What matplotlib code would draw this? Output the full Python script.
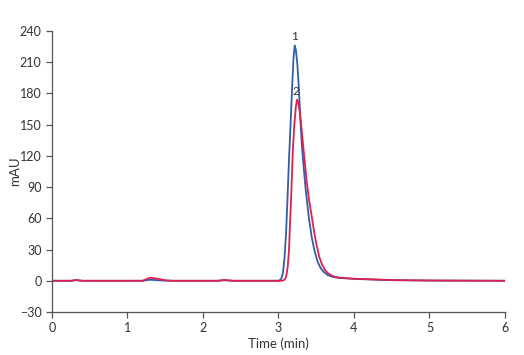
import matplotlib.pyplot as plt

# chromatogram traces (time in min, signal in mAU)
t_blue = [0.00, 0.25, 0.32, 0.40, 1.20, 1.30, 1.40, 1.55, 2.20, 2.28, 2.40,
          3.00, 3.02, 3.04, 3.06, 3.08, 3.10, 3.12, 3.14, 3.16, 3.18, 3.20,
          3.215, 3.23, 3.25, 3.27, 3.29, 3.31, 3.33, 3.36, 3.40, 3.44, 3.48,
          3.52, 3.56, 3.60, 3.65, 3.72, 3.80, 4.00, 4.50, 5.00, 6.00]
v_blue = [0.0, 0.0, 0.6, 0.0, 0.0, 1.0, 0.5, 0.0, 0.0, 0.5, 0.0,
          0.0, 0.6, 2.5, 8.0, 22.0, 45.0, 80.0, 118.0, 150.0, 185.0, 215.0,
          226.0, 222.0, 208.0, 185.0, 155.0, 130.0, 112.0, 88.0, 62.0, 42.0, 28.0,
          18.0, 12.0, 8.5, 5.5, 3.7, 2.8, 1.8, 0.6, 0.2, 0.0]

t_red = [0.00, 0.25, 0.32, 0.40, 1.20, 1.30, 1.40, 1.50, 1.60, 2.20, 2.28, 2.40,
         3.05, 3.08, 3.10, 3.12, 3.14, 3.15, 3.17, 3.19, 3.21, 3.23, 3.245,
         3.26, 3.28, 3.30, 3.32, 3.34, 3.37, 3.40, 3.44, 3.47, 3.50, 3.54,
         3.58, 3.62, 3.66, 3.72, 3.80, 4.00, 4.50, 5.00, 6.00]
v_red = [0.0, 0.0, 0.8, 0.0, 0.0, 3.0, 2.0, 0.5, 0.0, 0.0, 0.8, 0.0,
         0.0, 1.0, 3.5, 12.0, 30.0, 50.0, 85.0, 125.0, 150.0, 167.0, 174.0,
         172.0, 163.0, 150.0, 135.0, 120.0, 98.0, 80.0, 62.0, 48.0, 36.0, 23.0,
         15.0, 10.0, 7.0, 4.5, 3.0, 2.0, 0.7, 0.3, 0.0]

peak_labels = ["1", "2"]
peak_pos = [(3.21, 229), (3.235, 177)]

plt.rcParams['font.family'] = ['Lato', 'DejaVu Sans']
fig = plt.figure(figsize=(5.24, 3.55), dpi=100)
ax = fig.add_axes([0.0992, 0.1211, 0.8645, 0.7916])

ax.plot(t_blue, v_blue, color="#2f5fa6", lw=1.3)
ax.plot(t_red, v_red, color="#e0204f", lw=1.3)

for lab, (x, y) in zip(peak_labels, peak_pos):
    ax.text(x, y, lab, ha="center", va="bottom", fontsize=8.5, color="#333333")

ax.set_xlim(0, 6)
ax.set_ylim(-30, 240)
ax.set_xticks(range(0, 7))
ax.set_yticks(range(-30, 241, 30))
for s in ["top", "right"]:
    ax.spines[s].set_visible(False)
for s in ["left", "bottom"]:
    ax.spines[s].set_color("#555555")
    ax.spines[s].set_linewidth(0.9)
ax.tick_params(direction="out", length=4, width=0.9, color="#555555",
               labelsize=9, labelcolor="#333333")
ax.set_xlabel("Time (min)", fontsize=9.5, color="#333333", labelpad=2)
ax.set_ylabel("mAU", fontsize=9.5, color="#333333")
ax.yaxis.set_label_coords(-0.068, 0.5)

fig.savefig("out.png", dpi=100)
